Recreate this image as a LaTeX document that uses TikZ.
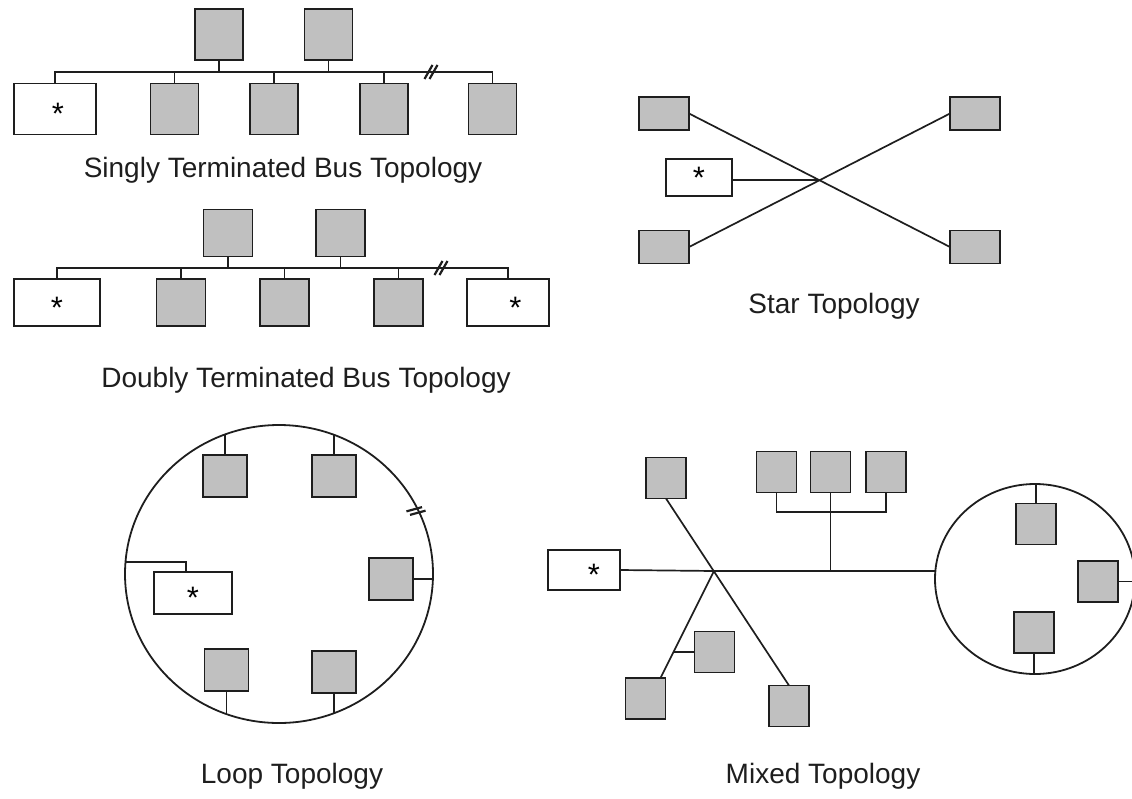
\documentclass[tikz,border=0pt]{standalone}
\usepackage{fontspec}
\setmainfont{Liberation Sans}
\usetikzlibrary{shapes.geometric}
\definecolor{boxgray}{RGB}{192,192,192}
\definecolor{ink}{RGB}{30,30,30}
\tikzset{
    GB/.style ={rectangle, draw=ink, fill=boxgray, line width=1.8pt, inner sep=0pt, outer sep=0pt},
    WB/.style ={rectangle, draw=ink, fill=white, line width=1.8pt, inner sep=0pt, outer sep=0pt, font=\fontsize{31}{31}\selectfont},
    G1/.style ={GB, minimum width = 48pt, minimum height = 51pt},
    G2/.style ={GB, minimum width = 49pt, minimum height = 47pt},
    G3/.style ={GB, minimum width = 50pt, minimum height = 33pt},
    G4/.style ={GB, minimum width = 44pt, minimum height = 42pt},
    G5/.style ={GB, minimum width = 40pt, minimum height = 41pt},
    CT/.style ={text height = 31pt, text depth = 0pt},
    RG/.style ={ellipse, draw=ink, line width=1.8pt, inner sep=0pt, outer sep=0pt},
    LN/.style ={draw=ink, line width=1.7pt},
    TT/.style ={anchor=base, font=\fontsize{28}{32}\selectfont, text=ink},
    brk/.pic ={\draw[ink, line width=2.2pt] (-6.5,7) -- (1.5,-7) (-1.5,7) -- (6.5,-7);}}
\begin{document}
\begin{tikzpicture}[x=1pt, y=-1pt]
        \useasboundingbox (0,0) rectangle (1132,798);
        \node[WB, CT, minimum width = 82pt, minimum height = 51pt] (s1a) at (55,109) {\hspace*{6pt}*};
        \node[G1] (s1b) at (174.5,109) {};
        \node[G1] (s1c) at (274,109) {};
        \node[G1] (s1d) at (384,109) {};
        \node[G1] (s1e) at (492.5,109) {};
        \node[G1] (s1f) at (219,34.5) {};
        \node[G1] (s1g) at (328.5,34.5) {};
        \coordinate (s1L) at (55,72);
        \coordinate (s1R) at (492.5,72);
        \draw[LN] (s1a.north) -- (s1L) -- (s1R) -- (s1e.north);
        \draw[LN] (s1b.north) -- (s1b.north |- s1L);
        \draw[LN] (s1c.north) -- (s1c.north |- s1L);
        \draw[LN] (s1d.north) -- (s1d.north |- s1L);
        \draw[LN] (s1f.south) -- (s1f.south |- s1L);
        \draw[LN] (s1g.south) -- (s1g.south |- s1L);
        \pic at (431,72) {brk};
        \node[TT] (s1t) at (283,177) {Singly Terminated Bus Topology};

        \node[WB, CT, minimum width = 86pt, minimum height = 47pt] (s2a) at (57,302.5) {*};
        \node[G2] (s2b) at (181,302.5) {};
        \node[G2] (s2c) at (284.5,302.5) {};
        \node[G2] (s2d) at (398.5,302.5) {};
        \node[WB, CT, minimum width = 82pt, minimum height = 47pt] (s2e) at (508,302.5) {\hspace*{15pt}*};
        \node[G2] (s2f) at (228,233) {};
        \node[G2] (s2g) at (340.5,233) {};
        \coordinate (s2L) at (57,268);
        \coordinate (s2R) at (508,268);
        \draw[LN] (s2a.north) -- (s2L) -- (s2R) -- (s2e.north);
        \draw[LN] (s2b.north) -- (s2b.north |- s2L);
        \draw[LN] (s2c.north) -- (s2c.north |- s2L);
        \draw[LN] (s2d.north) -- (s2d.north |- s2L);
        \draw[LN] (s2f.south) -- (s2f.south |- s2L);
        \draw[LN] (s2g.south) -- (s2g.south |- s2L);
        \pic at (441,268) {brk};
        \node[TT] (s2t) at (306,387) {Doubly Terminated Bus Topology};

        \node[G3] (stA) at (664,113.5) {};
        \node[G3] (stB) at (975,113.5) {};
        \node[G3] (stC) at (664,247) {};
        \node[G3] (stD) at (975,247) {};
        \node[WB, minimum width = 66pt, minimum height = 37pt] (stT) at (699,177.5) {*};
        \coordinate (stH) at (819,180);
        \draw[LN] (stA.east) -- (stD.west);
        \draw[LN] (stB.west) -- (stC.east);
        \draw[LN] (stT.east |- stH) -- (stH);
        \node[TT] (stt) at (834,313) {Star Topology};

        \node[RG, minimum width = 308pt, minimum height = 298pt] (lp) at (279,574) {};
        \node[G4] (lpA) at (225,476) {};
        \node[G4] (lpB) at (334,476) {};
        \node[G4] (lpC) at (391,579) {};
        \node[G4] (lpD) at (226.5,670) {};
        \node[G4] (lpE) at (334,672) {};
        \node[WB, CT, minimum width = 78pt, minimum height = 42pt] (lpT) at (193,593) {*};
        \draw[LN] (lpA.north) -- (lpA.north |- lp.111.2);
        \draw[LN] (lpB.north) -- (lpB.north |- lp.68.4);
        \draw[LN] (lpC.east) -- (lpC.east -| lp.east);
        \draw[LN] (lpD.south) -- (lpD.south |- lp.249.5);
        \draw[LN] (lpE.south) -- (lpE.south |- lp.291.6);
        \draw[LN] ([xshift=-7pt]lpT.north) |- ([yshift=12pt]lp.west);
        \pic[rotate=-45] at (416,511) {brk};
        \node[TT] (lpt) at (292,783) {Loop Topology};

        \node[WB, CT, minimum width = 72pt, minimum height = 40pt] (mxT) at (584,570) {\hspace*{20pt}*};
        \coordinate (mxX) at (714,571);
        \node[G5] (mxA) at (666,478) {};
        \node[G5] (mxF) at (789,706) {};
        \node[G5] (mxE) at (645.5,698.5) {};
        \node[G5] (mxG) at (714.5,652) {};
        \node[G5] (mxP) at (776.5,472) {};
        \node[G5] (mxQ) at (830.5,472) {};
        \node[G5] (mxR) at (886,472) {};
        \node[RG, minimum width = 200pt, minimum height = 190pt] (mxC) at (1035,579) {};
        \node[G5] (mxM) at (1036,524) {};
        \node[G5] (mxN) at (1034,632.5) {};
        \node[G5] (mxO) at (1098,581.5) {};
        \coordinate (mxK) at (830.5,512);
        \draw[LN] (mxA.south) -- (mxF.north);
        \draw[LN] (mxX) -- coordinate[pos=0.75] (mxY) ([xshift=15pt]mxE.north);
        \draw[LN] (mxG.west) -- (mxG.west -| mxY);
        \draw[LN] (mxT.east) -- (mxX) -- (mxX -| mxC.west);
        \draw[LN] (mxP.south) |- (mxK) -| (mxR.south);
        \draw[LN] (mxQ.south) -- (mxQ.south |- mxX);
        \draw[LN] (mxM.north) -- (mxM.north |- mxC.north);
        \draw[LN] (mxN.south) -- (mxN.south |- mxC.south);
        \draw[LN] (mxO.east) -- (mxO.east -| mxC.east);
        \node[TT] (mxt) at (823,783) {Mixed Topology};
    \end{tikzpicture}
\end{document}
